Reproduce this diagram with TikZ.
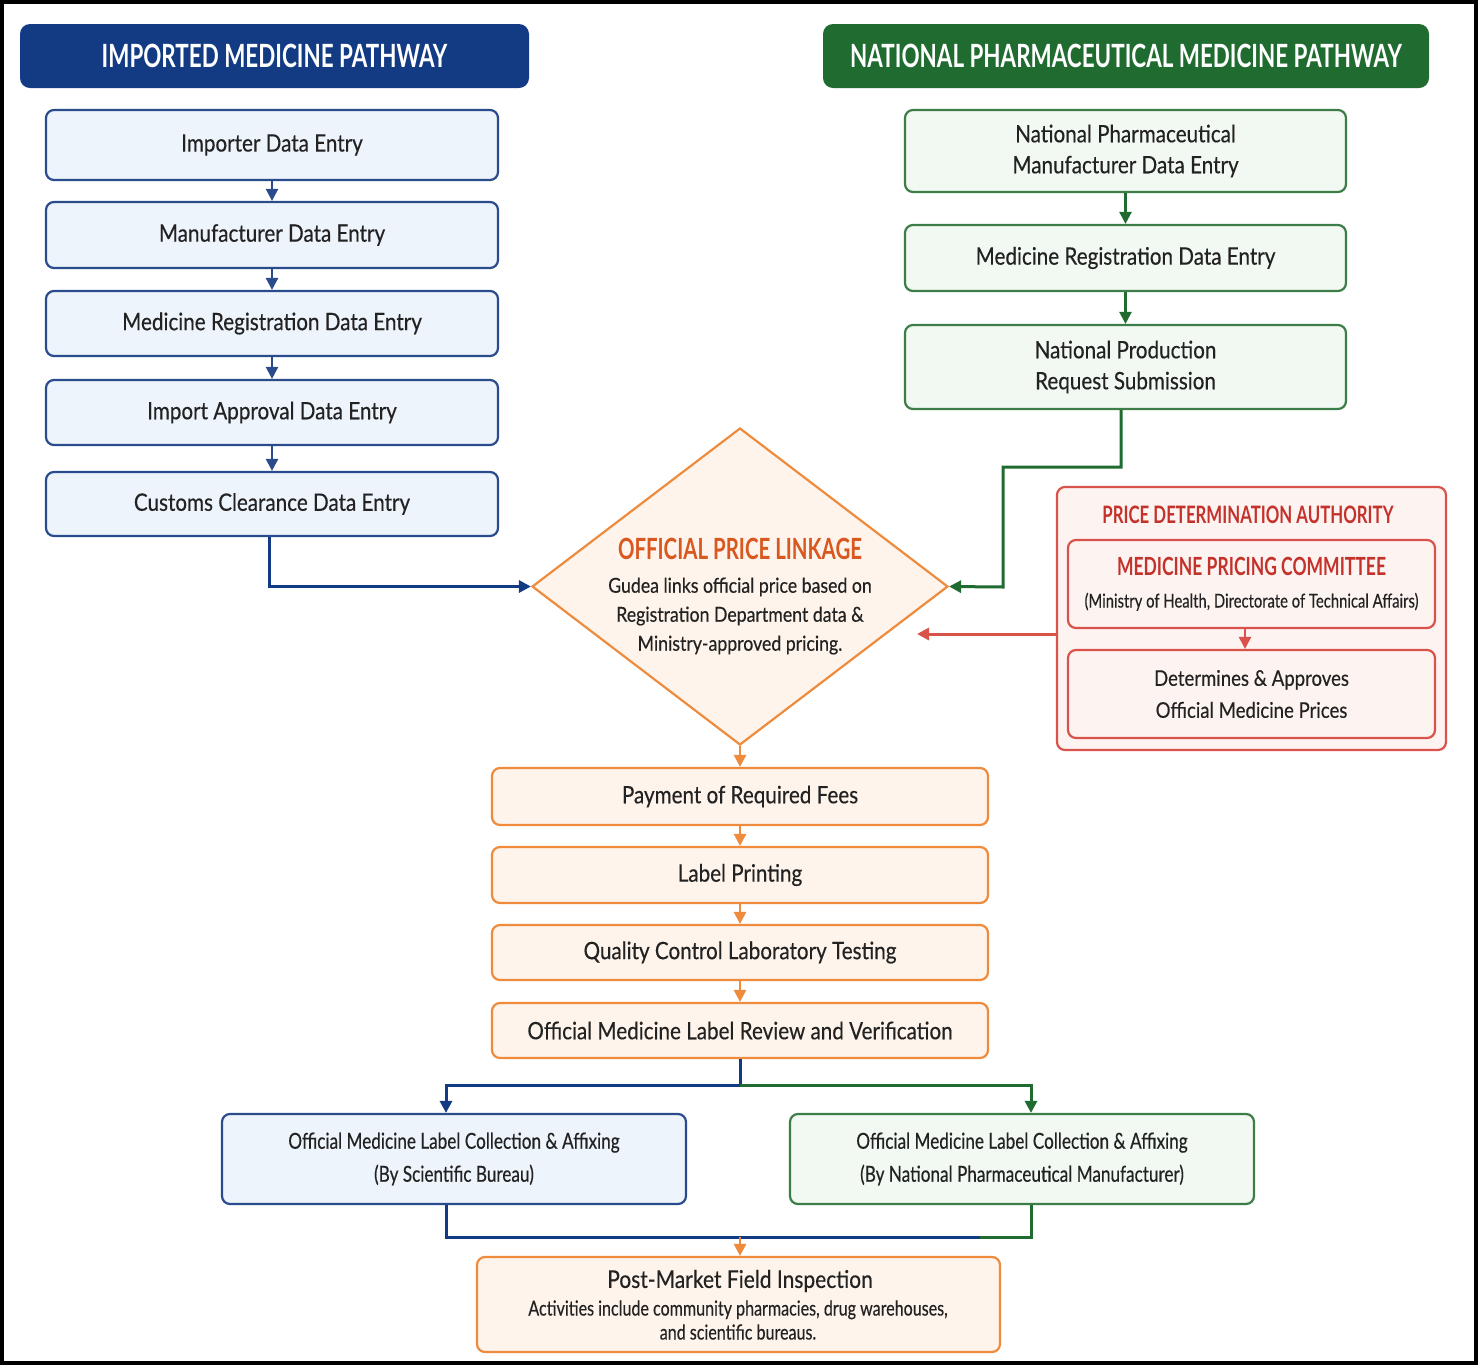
\documentclass[tikz,border=0pt]{standalone}
\usepackage{fontspec}
\setmainfont[FakeStretch=0.86,FakeBold=0.35]{Lato}
\newfontfamily\condfont[FakeStretch=0.70]{Lato}
\newfontfamily\narrowfont[FakeStretch=0.78,FakeBold=0.35]{Lato}
\usetikzlibrary{arrows.meta,shapes.geometric}
\definecolor{navy}{HTML}{123B84}
\definecolor{dgreen}{HTML}{1F6B30}
\definecolor{bline}{HTML}{2B4C8C}
\definecolor{bfill}{HTML}{EEF4FC}
\definecolor{gline}{HTML}{3D7D48}
\definecolor{gfill}{HTML}{F2F8F2}
\definecolor{oline}{HTML}{EE8B3C}
\definecolor{ofill}{HTML}{FEF4EB}
\definecolor{otext}{HTML}{D9581F}
\definecolor{rline}{HTML}{D9534A}
\definecolor{rfill}{HTML}{FDF3F1}
\definecolor{rtext}{HTML}{C4332B}
\definecolor{txt}{HTML}{222222}
\tikzset{
  base/.style={rounded corners=4pt, line width=1.1pt, align=center, text=txt, inner sep=2pt, font=\fontsize{12}{15.5}\selectfont},
  bluebox/.style={base, draw=bline, fill=bfill},
  greenbox/.style={base, draw=gline, fill=gfill},
  orangebox/.style={base, draw=oline, fill=ofill},
  redbox/.style={base, draw=rline, fill=rfill},
  titlebox/.style={rounded corners=5pt, text=white, font=\condfont\bfseries\fontsize{16}{18}\selectfont, inner sep=0pt},
  conn/.style={line width=1.5pt},
  tip/.style={-{Triangle[length=6pt,width=6pt]}},
}
\begin{document}
\begin{tikzpicture}[x=0.5pt,y=-0.5pt]
\useasboundingbox (0,0) rectangle (1479,1366);
\fill[white] (0,0) rectangle (1479,1366);
\draw[line width=2pt] (1.5,1.5) rectangle (1476,1363);

% titles
\node[titlebox, fill=navy, minimum width=254.5pt, minimum height=32pt] (t1) at (274.5,56) {IMPORTED MEDICINE PATHWAY};
\node[titlebox, fill=dgreen, minimum width=303pt, minimum height=32pt] (t2) at (1126,56) {NATIONAL PHARMACEUTICAL MEDICINE PATHWAY};

% left column
\node[bluebox, minimum width=226pt, minimum height=35pt] (l1) at (272,145) {Importer Data Entry};
\node[bluebox, minimum width=226pt, minimum height=33pt] (l2) at (272,235) {Manufacturer Data Entry};
\node[bluebox, minimum width=226pt, minimum height=32.5pt] (l3) at (272,323.5) {Medicine Registration Data Entry};
\node[bluebox, minimum width=226pt, minimum height=32.5pt] (l4) at (272,412.5) {Import Approval Data Entry};
\node[bluebox, minimum width=226pt, minimum height=32pt] (l5) at (272,504) {Customs Clearance Data Entry};
\foreach \a/\b in {l1/l2,l2/l3,l3/l4,l4/l5}
  \draw[conn, draw=bline, tip, line width=1.2pt] (\a) -- (\b);

% right column
\node[greenbox, minimum width=220.5pt, minimum height=41pt] (r1) at (1125.5,151) {National Pharmaceutical\\Manufacturer Data Entry};
\node[greenbox, minimum width=220.5pt, minimum height=33pt] (r2) at (1125.5,258) {Medicine Registration Data Entry};
\node[greenbox, minimum width=220.5pt, minimum height=42pt] (r3) at (1125.5,367) {National Production\\Request Submission};
\draw[conn, draw=dgreen, tip, line width=1.2pt] (r1) -- (r2);
\draw[conn, draw=dgreen, tip, line width=1.2pt] (r2) -- (r3);

% diamond
\node[diamond, draw=oline, fill=ofill, line width=1.1pt, minimum width=208pt, minimum height=158.5pt, inner sep=0pt] (dm) at (740,586.5) {};
\node[font=\condfont\bfseries\fontsize{14.6}{16}\selectfont, text=otext] (dmt) at (740,549) {OFFICIAL PRICE LINKAGE};
\node[align=center, text=txt, font=\fontsize{10.3}{14.5}\selectfont] (dmb) at (740,616) {Gudea links official price based on\\Registration Department data \&\\Ministry-approved pricing.};

% authority
\node[redbox, minimum width=194.5pt, minimum height=131.5pt] (auth) at (1251.5,618.5) {};
\node[font=\condfont\bfseries\fontsize{12}{14}\selectfont, text=rtext] (autht) at (1248,515) {PRICE DETERMINATION AUTHORITY};
\node[redbox, minimum width=183.5pt, minimum height=44pt, inner sep=0pt, font=\narrowfont\fontsize{9.5}{16}\selectfont] (mpc) at (1251.5,584) {{\condfont\bfseries\fontsize{12.5}{14}\selectfont\color{rtext}MEDICINE PRICING COMMITTEE}\\(Ministry of Health, Directorate of Technical Affairs)};
\node[redbox, minimum width=183.5pt, minimum height=44pt, font=\fontsize{10.8}{16}\selectfont] (det) at (1251.5,694) {Determines \& Approves\\Official Medicine Prices};
\draw[conn, draw=rline, tip, line width=1.2pt] (mpc.south -| 1245,0) -- (det.north -| 1245,0);

% connectors into diamond
\draw[conn, draw=navy, tip] (l5.south -| 269,0) |- (dm.west);
\draw[conn, draw=dgreen, tip] (r3.south -| 1121,0) -- (1121,467) -| (1003,587) -- (dm.east);
\draw[conn, draw=rline, tip] (auth.west |- 0,634) -- (917,634);

% orange column
\node[orangebox, minimum width=248pt, minimum height=28.5pt] (o1) at (740,796.5) {Payment of Required Fees};
\node[orangebox, minimum width=248pt, minimum height=28pt] (o2) at (740,875) {Label Printing};
\node[orangebox, minimum width=248pt, minimum height=27.5pt] (o3) at (740,952.5) {Quality Control Laboratory Testing};
\node[orangebox, minimum width=248pt, minimum height=27.5pt] (o4) at (740,1030.5) {Official Medicine Label Review and Verification};
\draw[conn, draw=oline, tip, line width=1.2pt] (dm.south) -- (o1);
\foreach \a/\b in {o1/o2,o2/o3,o3/o4}
  \draw[conn, draw=oline, tip, line width=1.2pt] (\a) -- (\b);

% bottom pair
\node[bluebox, minimum width=232pt, minimum height=45pt, font=\narrowfont\fontsize{11}{16.5}\selectfont] (bl) at (454,1159) {Official Medicine Label Collection \& Affixing\\(By Scientific Bureau)};
\node[greenbox, minimum width=232pt, minimum height=45pt, font=\narrowfont\fontsize{11}{16.5}\selectfont] (br) at (1022,1159) {Official Medicine Label Collection \& Affixing\\(By National Pharmaceutical Manufacturer)};
\coordinate (split) at (740,1085);
\draw[conn, draw=navy] (o4.south) -- (split);
\draw[conn, draw=navy, tip] (split) -| (bl.north -| 446,0);
\draw[conn, draw=dgreen, tip] (split) -| (br.north -| 1031,0);

% final
\node[orangebox, minimum width=261.5pt, minimum height=47.5pt] (fin) at (738.5,1304.5) {};
\node[font=\fontsize{12.2}{13}\selectfont, text=txt] (fint) at (740,1281) {Post-Market Field Inspection};
\node[align=center, text=txt, font=\narrowfont\fontsize{10.3}{12}\selectfont] (finb) at (738,1320) {Activities include community pharmacies, drug warehouses,\\and scientific bureaus.};
\coordinate (merge) at (740,1237);
\coordinate (mid) at (980,1237);
\draw[conn, draw=navy] (bl.south -| 446,0) |- (mid);
\draw[conn, draw=dgreen] (br.south -| 1031,0) |- (mid);
\draw[conn, draw=oline, tip, line width=1.2pt] (merge) -- (fin.north -| merge);
\end{tikzpicture}
\end{document}
